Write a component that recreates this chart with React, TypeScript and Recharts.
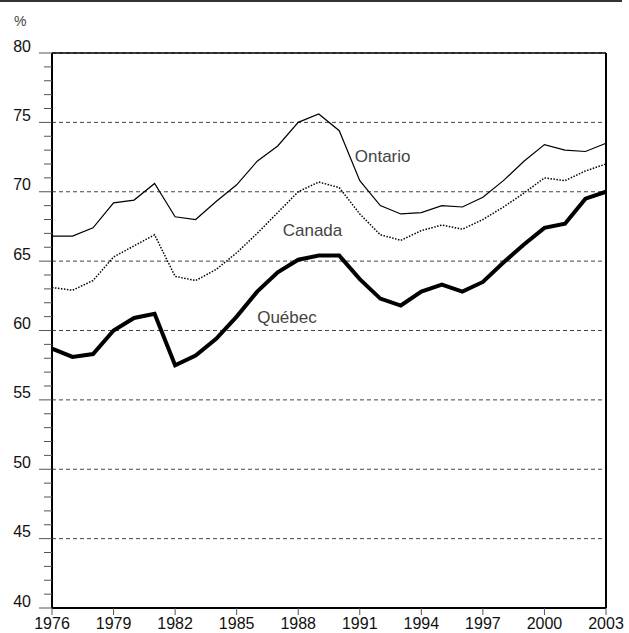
import React from 'react';
import { LineChart, Line, XAxis, YAxis, CartesianGrid, ReferenceLine } from 'recharts';

const years = [
  1976, 1977, 1978, 1979, 1980, 1981, 1982, 1983, 1984, 1985, 1986, 1987, 1988, 1989,
  1990, 1991, 1992, 1993, 1994, 1995, 1996, 1997, 1998, 1999, 2000, 2001, 2002, 2003,
];
const ontario = [
  66.8, 66.8, 67.4, 69.2, 69.4, 70.6, 68.2, 68.0, 69.3, 70.5, 72.2, 73.3, 75.0, 75.6,
  74.4, 70.8, 69.0, 68.4, 68.5, 69.0, 68.9, 69.6, 70.8, 72.2, 73.4, 73.0, 72.9, 73.5,
];
const canada = [
  63.1, 62.9, 63.6, 65.3, 66.1, 66.9, 63.9, 63.6, 64.4, 65.6, 67.0, 68.5, 70.0, 70.7,
  70.3, 68.4, 66.9, 66.5, 67.2, 67.6, 67.3, 68.0, 68.9, 69.9, 71.0, 70.8, 71.5, 72.0,
];
const quebec = [
  58.7, 58.1, 58.3, 60.0, 60.9, 61.2, 57.5, 58.2, 59.4, 61.0, 62.8, 64.2, 65.1, 65.4,
  65.4, 63.7, 62.3, 61.8, 62.8, 63.3, 62.8, 63.5, 64.9, 66.2, 67.4, 67.7, 69.5, 70.0,
];

const xTicks = [1976, 1979, 1982, 1985, 1988, 1991, 1994, 1997, 2000, 2003];
const yTicks = Array.from({ length: 41 }, (_, i) => 40 + i);
const gridValues = [40, 45, 50, 55, 60, 65, 70, 75, 80];

const data = years.map((year, i) => ({
  year,
  ontario: ontario[i],
  canada: canada[i],
  quebec: quebec[i],
}));

const FONT = '"Liberation Sans", Arial, sans-serif';
const LABEL_COLOR = '#444';

const YTick = (props: any) => {
  const { x, y, payload } = props;
  const v = payload.value;
  const major = v % 5 === 0;
  return (
    <g>
      <line x1={x - (major ? 13 : 8)} x2={x} y1={y} y2={y} stroke="#555" strokeWidth={1} />
      {major && (
        <text x={x - 21} y={y - 1.5} textAnchor="end" fontSize={16} fill="#111" fontFamily={FONT}>
          {v}
        </text>
      )}
    </g>
  );
};

// series name drawn next to one chosen point of the line
const seriesLabel = (name: string, idx: number, dx: number, dy: number) => (props: any) => {
  if (props.index !== idx) return null;
  return (
    <text x={props.x + dx} y={props.y + dy} fontSize={17} fill={LABEL_COLOR} fontFamily={FONT}>
      {name}
    </text>
  );
};

export default function App() {
  return (
    <div style={{ position: 'absolute', left: 0, top: 0, width: 629, height: 633, background: '#fff', fontFamily: FONT }}>
      <div style={{ position: 'absolute', left: 0, top: 0, width: 622, height: 2, background: '#333' }} />
      <div style={{ position: 'absolute', left: 14, top: 13, fontSize: 14, color: LABEL_COLOR }}>%</div>
      <LineChart width={629} height={633} data={data} margin={{ top: 53, right: 23, bottom: 0, left: 0 }}>
        <CartesianGrid
          vertical={false}
          horizontalValues={gridValues}
          stroke="#444"
          strokeDasharray="4 3"
        />
        <XAxis
          dataKey="year"
          type="number"
          domain={[1976, 2003]}
          ticks={xTicks}
          interval={0}
          height={25}
          tickSize={7}
          tickMargin={3}
          tickLine={{ stroke: '#555' }}
          axisLine={{ stroke: '#000', strokeWidth: 2 }}
          tick={{ fontSize: 16, fill: '#111', fontFamily: FONT }}
        />
        <YAxis
          type="number"
          domain={[40, 80]}
          ticks={yTicks}
          interval={0}
          width={52}
          tickSize={0}
          tickMargin={0}
          tickLine={false}
          axisLine={{ stroke: '#000', strokeWidth: 2 }}
          tick={<YTick />}
        />
        <ReferenceLine y={80} stroke="#000" strokeWidth={1.5} />
        <ReferenceLine x={2003} stroke="#000" strokeWidth={2} />
        <Line
          dataKey="ontario"
          stroke="#000"
          strokeWidth={1.2}
          dot={false}
          isAnimationActive={false}
          label={seriesLabel('Ontario', 15, -5, -19)}
        />
        <Line
          dataKey="canada"
          stroke="#000"
          strokeWidth={1.5}
          strokeDasharray="1.5 1.5"
          dot={false}
          isAnimationActive={false}
          label={seriesLabel('Canada', 11, 5, 23)}
        />
        <Line
          dataKey="quebec"
          stroke="#000"
          strokeWidth={4}
          dot={false}
          isAnimationActive={false}
          label={seriesLabel('Québec', 10, 0, 31)}
        />
      </LineChart>
    </div>
  );
}
